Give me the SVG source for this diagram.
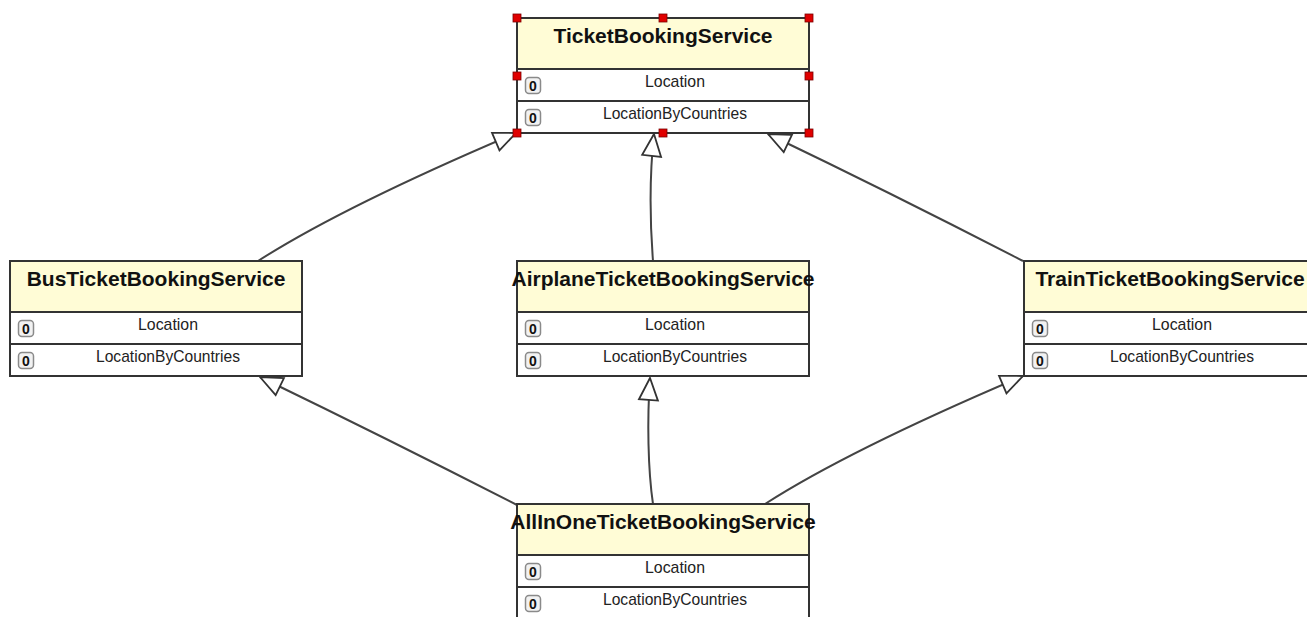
<svg xmlns="http://www.w3.org/2000/svg" width="1307" height="617" viewBox="0 0 1307 617">
  <defs>
    <style>
      .hdr { fill: #fffcd6; }
      .frame { fill: none; stroke: #333; stroke-width: 2; }
      .sep { stroke: #333; stroke-width: 2; }
      .body { fill: #ffffff; }
      .title { font-family: "Liberation Sans", Arial, sans-serif; font-weight: bold; font-size: 21px; fill: #111; text-anchor: middle; }
      .attr { font-family: "Liberation Sans", Arial, sans-serif; font-size: 17px; fill: #222; text-anchor: middle; }
      .ico { fill: #f2f2f2; stroke: #8a8a8a; stroke-width: 1.5; }
      .icotxt { font-family: "Liberation Sans", Arial, sans-serif; font-weight: bold; font-size: 14px; fill: #111; text-anchor: middle; }
      .edge { fill: none; stroke: #444; stroke-width: 2; marker-end: url(#gen); }
      .handle { fill: #e00000; stroke: #7a0000; stroke-width: 0.8; }
    </style>
    <!-- hollow triangle for generalization -->
    <marker id="gen" markerUnits="userSpaceOnUse" viewBox="-25 -12 27 24" markerWidth="27" markerHeight="24" refX="0" refY="0" orient="auto">
      <path d="M0,0 L-22,-9.5 L-22,9.5 Z" fill="#fff" stroke="#333" stroke-width="1.8" stroke-linejoin="miter"/>
    </marker>
    <!-- class box: 292 x 115, header 51, two attribute rows -->
    <g id="rows">
      <rect class="body" x="0" y="51" width="292" height="64"/>
      <line class="sep" x1="0" y1="51" x2="292" y2="51"/>
      <line class="sep" x1="0" y1="83" x2="292" y2="83"/>
      <rect class="ico" x="8.5" y="59.5" width="15" height="16" rx="3.5"/>
      <text class="icotxt" x="16" y="72.5">0</text>
      <rect class="ico" x="8.5" y="91.5" width="15" height="16" rx="3.5"/>
      <text class="icotxt" x="16" y="104.5">0</text>
      <text class="attr" x="158" y="69" textLength="60" lengthAdjust="spacingAndGlyphs">Location</text>
      <text class="attr" x="158" y="101" textLength="144" lengthAdjust="spacingAndGlyphs">LocationByCountries</text>
    </g>
  </defs>

  <rect x="0" y="0" width="1307" height="617" fill="#ffffff"/>

  <g id="connectors">
    <path class="edge" d="M258,261 Q342,207 516,133"/>
    <path class="edge" d="M653,261 C650,222 649,180 654,134"/>
    <path class="edge" d="M1023,261 Q893,194 768,134"/>
    <path class="edge" d="M517,505 Q390,440 260,377"/>
    <path class="edge" d="M653,504 C648,470 647,420 650,378"/>
    <path class="edge" d="M765,504 Q849,450 1023,376"/>
  </g>

  <g id="TicketBookingService" transform="translate(517,18)">
    <rect class="hdr" x="0" y="0" width="292" height="51"/>
    <use href="#rows"/>
    <rect class="frame" x="0" y="0" width="292" height="115"/>
    <text class="title" x="146" y="25">TicketBookingService</text>
    <g id="selection-handles">
      <rect class="handle" x="-4" y="-4" width="8" height="8"/>
      <rect class="handle" x="142" y="-4" width="8" height="8"/>
      <rect class="handle" x="288" y="-4" width="8" height="8"/>
      <rect class="handle" x="-4" y="54" width="8" height="8"/>
      <rect class="handle" x="288" y="54" width="8" height="8"/>
      <rect class="handle" x="-4" y="111" width="8" height="8"/>
      <rect class="handle" x="142" y="111" width="8" height="8"/>
      <rect class="handle" x="288" y="111" width="8" height="8"/>
    </g>
  </g>

  <g id="BusTicketBookingService" transform="translate(10,261)">
    <rect class="hdr" x="0" y="0" width="292" height="51"/>
    <use href="#rows"/>
    <rect class="frame" x="0" y="0" width="292" height="115"/>
    <text class="title" x="146" y="25">BusTicketBookingService</text>
  </g>

  <g id="AirplaneTicketBookingService" transform="translate(517,261)">
    <rect class="hdr" x="0" y="0" width="292" height="51"/>
    <use href="#rows"/>
    <rect class="frame" x="0" y="0" width="292" height="115"/>
    <text class="title" x="146" y="25">AirplaneTicketBookingService</text>
  </g>

  <g id="TrainTicketBookingService" transform="translate(1024,261)">
    <rect class="hdr" x="0" y="0" width="292" height="51"/>
    <use href="#rows"/>
    <rect class="frame" x="0" y="0" width="292" height="115"/>
    <text class="title" x="146" y="25">TrainTicketBookingService</text>
  </g>

  <g id="AllInOneTicketBookingService" transform="translate(517,504)">
    <rect class="hdr" x="0" y="0" width="292" height="51"/>
    <use href="#rows"/>
    <rect class="frame" x="0" y="0" width="292" height="115"/>
    <text class="title" x="146" y="25">AllInOneTicketBookingService</text>
  </g>
</svg>
